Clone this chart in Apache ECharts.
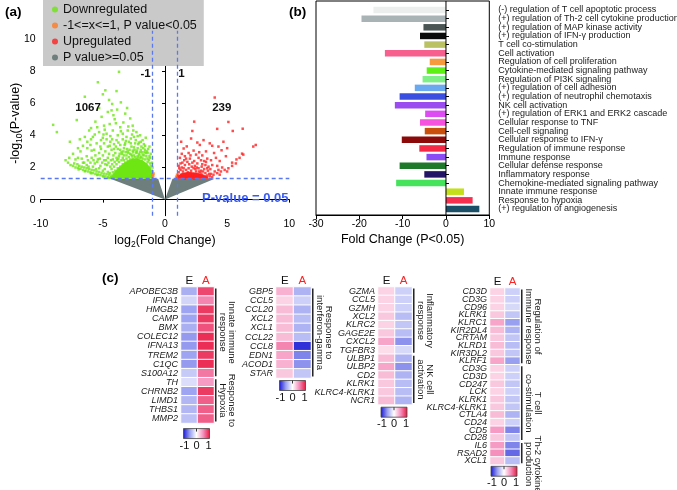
<!DOCTYPE html>
<html>
<head>
<meta charset="utf-8">
<script src="https://cdn.jsdelivr.net/npm/echarts@6.0.0/dist/echarts.min.js"></script>
<style>
html,body{margin:0;padding:0;background:#ffffff;}
#chart{width:677px;height:490px;}
</style>
</head>
<body>
<div id="chart"></div>
<script>
// ================= Panel (a): volcano plot =================
const volcanoXTicks = [-10, -5, 0, 5, 10];
const volcanoYTicks = [0, 2, 4, 6, 8, 10];
const foldThresholds = [-1, 1];
const pThreshold = 1.3;

const downPoints = [
 [-3.70,7.95],[-5.40,7.30],[-4.80,6.80],[-3.90,6.75],[-5.00,6.55],[-6.45,6.40],[-4.50,6.20],[-3.55,6.05],[-4.25,5.95],[-5.30,5.70],
 [-3.85,5.60],[-4.30,5.55],[-4.60,5.45],[-3.20,5.35],[-5.10,5.15],[-2.80,5.05],[-4.05,5.00],[-7.10,4.95],[-5.60,4.85],[-3.35,4.80],
 [-4.45,4.70],[-9.00,4.65],[-2.60,4.60],[-4.90,4.60],[-3.60,4.50],[-5.95,4.45],[-2.95,4.55],[-3.95,4.75],[-4.15,5.25],[-3.05,5.70],
 [-6.10,4.30],[-2.30,4.20],[-8.70,4.20],[-5.30,4.20],[-4.20,4.30],[-3.00,4.30],[-4.70,4.10],[-3.40,4.10],[-2.00,4.00],[-3.80,4.00],
 [-6.45,3.90],[-5.80,3.90],[-2.50,3.90],[-3.10,3.90],[-5.00,3.85],[-4.40,3.95],[-6.85,3.75],[-1.80,3.70],[-3.90,3.70],[-4.70,3.75],
 [-3.40,3.75],[-7.65,3.60],[-2.10,3.55],[-5.50,3.50],[-4.90,3.50],[-4.40,3.60],[-2.90,3.60],[-2.40,3.50],[-1.70,3.45],[-6.00,3.40],
 [-4.10,3.45],[-3.60,3.40],[-3.20,3.50],[-5.20,3.30],[-2.65,4.05],[-1.55,3.85],[-5.65,4.05],
 [-4.60,3.30],[-2.70,3.30],[-1.90,3.30],[-3.30,3.20],[-4.30,3.10],[-5.70,3.10],[-2.20,3.20],[-3.80,3.15],[-1.60,3.10],[-4.10,3.15],
 [-5.90,3.05],[-3.00,3.00],[-4.80,3.00],[-2.50,3.25],[-3.60,3.10],[-6.80,3.00],[-2.60,3.05],[-4.00,2.90],[-5.30,2.90],[-3.50,2.95],
 [-1.40,2.90],[-2.30,2.90],[-2.00,2.95],[-4.50,2.85],[-2.80,2.85],[-1.80,2.80],[-5.00,2.75],[-3.10,2.75],[-5.60,2.75],[-2.50,2.75],
 [-1.50,2.70],[-6.30,2.70],[-3.70,2.70],[-2.20,2.70],[-4.20,2.50],[-2.90,2.65],[-1.90,2.65],[-3.40,2.60],[-4.60,2.60],[-5.90,2.60],
 [-1.20,2.60],[-3.90,2.60],[-5.40,2.50],[-4.90,2.45],[-1.30,2.45],[-7.20,2.50],[-3.25,3.40],[-2.15,3.45],[-4.45,3.35],[-1.35,3.15],
 [-1.15,2.85],[-5.15,3.15],[-3.95,3.30],[-2.35,3.70],[-6.25,3.20],
 [-8.00,2.45],[-7.80,2.30],[-7.60,2.15],[-7.40,2.10],[-7.30,2.25],[-7.20,2.00],[-7.00,1.98],[-6.95,1.88],[-6.90,2.10],[-6.80,1.92],
 [-6.70,2.05],[-6.60,1.85],[-6.50,2.00],[-6.45,1.76],[-6.40,1.80],[-6.30,1.95],[-6.20,1.75],[-6.10,1.90],[-6.00,1.70],[-5.95,1.64],
 [-5.90,1.85],[-5.80,1.65],[-5.70,1.82],[-5.60,1.60],[-5.50,1.75],[-5.45,1.53],[-5.40,1.56],[-5.30,1.72],[-5.20,1.52],[-5.10,1.66],
 [-5.00,1.48],[-4.95,1.43],[-4.90,1.62],[-4.80,1.44],[-4.70,1.58],[-4.60,1.40],[-4.55,1.35],[-4.50,1.55],[-4.40,1.36],[-4.30,1.50],
 [-5.30,1.95],[-5.80,2.05],[-6.30,2.15],[-6.60,2.30],[-5.00,1.80],[-4.60,1.72],[-7.05,2.20],[-6.15,2.05],[-5.55,1.90],[-4.85,1.90],
 [-6.00,2.30],[-5.65,2.25],[-5.20,2.10],[-4.80,2.20],[-4.40,2.05],[-6.50,2.30],
 [-4.20,1.70],[-4.00,1.80],[-3.80,1.95],[-3.60,2.05],[-3.40,2.20],[-3.20,2.30],[-3.00,2.40],[-2.80,2.50],[-2.60,2.55],[-2.40,2.65],
 [-2.20,2.60],[-2.00,2.60],[-1.80,2.55],[-1.60,2.50],[-1.40,2.35],[-1.20,2.25],[-1.10,1.80],[-1.05,1.60],[-1.10,2.10],[-1.20,1.95],
 [-3.90,2.20],[-3.50,2.45],[-2.70,2.80],[-2.10,2.85],[-1.70,2.75],[-4.30,1.90],[-3.10,2.55],[-1.50,2.20],[-4.10,2.05],[-3.30,2.45],
 [-2.50,2.45],[-1.30,2.05],[-4.45,1.65],[-3.70,2.35],[-2.90,2.30],[-1.90,2.40],[-1.15,1.55],[-1.25,1.40],[-4.00,1.45],[-3.00,1.50],
 [-2.00,1.45],[-1.50,1.70],[-3.50,1.60],[-2.50,1.70],[-4.35,1.40],[-3.75,2.55],[-2.30,2.95],[-1.40,2.55],
 [-3.45,2.85],[-3.15,2.95],[-2.85,3.10],[-2.55,2.95],[-2.25,3.05],[-1.95,3.10],[-1.65,2.95],[-1.45,3.00],[-1.25,2.70],[-3.85,2.45],
 [-4.05,2.35],[-4.25,2.20],[-4.55,2.30],[-4.75,2.45],[-4.15,2.75],[-3.65,2.85],[-2.65,2.70],[-2.05,2.75],[-1.55,2.90],[-1.05,2.30],
 [-1.00,2.00],[-0.98,1.75],[-3.35,3.00],[-2.45,3.10],[-1.75,3.20],[-4.35,2.45],[-5.05,2.30],[-5.45,2.35],[-3.05,3.15],[-2.75,3.50],
 [-1.95,3.60],[-3.75,3.55],[-4.25,3.75],[-5.15,3.70],[-1.25,3.30],[-2.55,4.30],[-3.55,4.25],[-4.85,4.35],[-5.45,4.50],[-6.25,3.60],
 [-6.60,3.35],[-7.00,3.20],[-7.40,2.85],[-7.00,2.60],[-6.70,2.55],[-7.70,2.60],[-3.30,2.75],[-2.95,2.90],[-2.35,2.50],[-1.85,2.95],
 [-4.65,2.15],[-5.25,2.55],[-5.75,2.45],[-6.20,2.45],[-3.15,3.65],[-2.20,3.95],[-4.95,4.05],[-5.95,3.75],[-1.60,3.35],[-2.75,3.80]
];
const midPoints = [[-1.00,1.35],[-0.95,1.48],[-0.92,1.62],[-1.00,1.55],[0.95,1.35],[0.90,1.42],[0.97,1.55]];
const upPoints = [
 [4.00,6.35],[2.35,4.85],[5.10,4.83],[4.20,4.40],[5.45,4.27],[6.25,4.41],[2.20,4.27],[2.10,3.80],[7.30,3.40],[7.10,3.30],
 [4.70,3.60],[3.80,3.35],[4.55,3.07],[6.20,2.86],[1.75,3.31],[1.50,3.18],[2.30,3.05],[3.60,3.50],[3.30,3.00],[4.30,3.30],
 [2.80,3.40],[1.30,3.60],[3.10,3.70],[5.00,3.20],[2.60,3.55],[4.90,2.70],[3.95,2.90],[1.90,2.90],[2.50,2.80],
 [1.20,2.60],[1.60,2.70],[2.00,2.55],[2.70,2.60],[3.00,2.75],[3.40,2.55],[3.70,2.45],[4.10,2.60],[4.40,2.40],[1.40,2.30],
 [1.80,2.35],[2.20,2.30],[2.60,2.25],[3.00,2.20],[3.30,2.35],[3.80,2.15],[1.10,2.10],[2.40,2.10],[3.50,2.05],[4.20,2.10],
 [1.60,2.15],[2.90,2.45],[2.05,2.75],[3.15,2.40],[1.35,2.85],[2.75,2.95],
 [3.60,1.45],[3.90,1.55],[4.20,1.65],[4.50,1.75],[4.80,1.85],[5.10,1.95],[5.40,2.10],[5.70,2.25],[5.75,2.50],[6.00,2.60],
 [5.40,2.30],[4.60,2.00],[4.30,1.85],[4.00,1.75],[3.70,1.60],[3.40,1.50],[3.80,1.40],[4.40,1.55],[5.00,1.75],[6.30,2.80],
 [1.00,1.35],[1.05,1.50],[1.10,1.70],[1.20,1.40],[1.25,1.85],[1.30,1.55],[1.40,1.35],[1.45,1.75],[1.50,1.95],[1.55,1.45],
 [1.65,1.60],[1.70,1.85],[1.80,1.40],[1.85,1.70],[1.90,1.95],[2.00,1.50],[2.10,1.80],[2.15,1.35],[2.25,1.60],[2.30,1.95],
 [2.40,1.45],[2.50,1.75],[2.55,1.35],[2.65,1.60],[2.70,1.95],[2.80,1.40],[2.90,1.80],[3.00,1.55],[3.10,1.35],[3.15,1.90],
 [3.25,1.65],[3.35,1.40],[3.45,1.80],[3.55,1.60],[1.15,1.95],[1.35,2.00],[1.60,1.30],[2.05,1.65],[2.35,1.30],[2.60,1.50],
 [2.85,1.65],[3.05,1.75],[1.75,1.50],[1.95,1.35],[2.45,1.90],[3.20,1.45],[1.45,1.60],[2.20,1.50],[2.75,1.75],[3.40,1.95],
 [1.25,2.25],[1.55,2.45],[1.95,2.20],[2.35,2.40],[2.55,2.00],[2.95,2.05],[3.25,2.15],[3.65,1.90],[1.70,2.55],[2.15,2.05]
];
// outlines of the densely packed regions (grey non-significant fans, saturated cores)
const greyLeftOutline = [[0,0],[-4.4,1.3],[-0.55,1.3]];
const greyRightOutline = [[0,0],[0.6,1.3],[4.0,1.3]];
const downCoreOutline = [[-4.4,1.3],[-4.2,1.6],[-3.8,1.95],[-3.4,2.22],[-3.0,2.42],[-2.6,2.55],[-2.2,2.55],[-1.8,2.45],[-1.45,2.25],[-1.15,1.92],[-1.02,1.6],[-1.02,1.3]];
const upCoreOutline = [[1.02,1.3],[1.02,1.45],[1.3,1.62],[1.8,1.72],[2.4,1.68],[3.0,1.56],[3.4,1.42],[3.55,1.3]];

const noteTexts = ['-1', '1', '1067', '239', 'P-value = 0.05'];
const notePositions = [[-1.15,7.8],[1.07,7.8],[-6.19,5.71],[4.57,5.71],[6.46,0.06]];

// ================= Panel (b): GO fold change bars =================
const goTerms = [
 '(-) regulation of T cell apoptotic process',
 '(+) regulation of Th-2 cell cytokine production',
 '(+) regulation of MAP kinase activity',
 '(+) regulation of IFN-\u03b3 production',
 'T cell co-stimulation',
 'Cell activation',
 'Regulation of cell proliferation',
 'Cytokine-mediated signaling pathway',
 'Regulation of PI3K signaling',
 '(+) regulation of cell adhesion',
 '(+) regulation of neutrophil chemotaxis',
 'NK cell activation',
 '(+) regulation of ERK1 and ERK2 cascade',
 'Cellular response to TNF',
 'Cell-cell signaling',
 'Cellular response to IFN-\u03b3',
 'Regulation of immune response',
 'Immune response',
 'Cellular defense response',
 'Inflammatory response',
 'Chemokine-mediated signaling pathway',
 'Innate immune response',
 'Response to hypoxia',
 '(+) regulation of angiogenesis'
];
const goFold = [-16.75,-19.5,-5.2,-6.0,-5.0,-14.1,-3.75,-4.45,-5.4,-7.2,-10.7,-11.8,-4.8,-6.0,-4.9,-10.2,-6.15,-4.5,-10.7,-5.0,-11.5,4.15,6.15,7.7];
const goColors = ['#eceeee','#a9b3b6','#4b5654','#0a0a0a','#b9c164','#f7608e','#f79a3e','#5ef015','#80ef88','#6aa8f0','#3a4fe0','#9a4cf0',
 '#dc4cf2','#f652e0','#c8500c','#8c0a0a','#f52845','#8b4cf5','#1e7a2a','#231566','#45e35b','#c4e01a','#f5304e','#1b4f68'];

// ================= Panel (c): heatmaps =================
const heatCols = ['E', 'A'];
const genes1 = ['APOBEC3B','IFNA1','HMGB2','CAMP','BMX','COLEC12','IFNA13','TREM2','C1QC','S100A12','TH','CHRNB2','LIMD1','THBS1','MMP2'];
const valsE1 = [-0.42,-0.22,-0.48,-0.48,-0.42,-0.52,-0.52,-0.48,-0.52,-0.28,-0.18,-0.48,-0.38,-0.38,-0.33];
const valsA1 = [0.8,0.55,0.85,0.85,0.75,0.9,0.9,0.85,0.9,0.6,0.45,0.85,0.7,0.7,0.7];
const groups1 = [[0,9,'Innate immune\nresponse'],[10,14,'Response to\nHypoxia']];

const genes2 = ['GBP5','CCL5','CCL20','XCL2','XCL1','CCL22','CCL8','EDN1','ACOD1','STAR'];
const valsE2 = [0.35,0.2,0.3,0.3,0.3,0.3,0.55,0.4,0.35,0.25];
const valsA2 = [-0.4,-0.25,-0.4,-0.35,-0.4,-0.35,-0.9,-0.6,-0.55,-0.3];
const groups2 = [[0,9,'Response to\ninterferon-gamma']];

const genes3 = ['GZMA','CCL5','GZMH','XCL2','KLRC2','GAGE2E','CXCL2','TGFBR3','ULBP1','ULBP2','CD2','KLRK1','KLRC4-KLRK1','NCR1'];
const valsE3 = [0.2,0.2,0.2,0.25,0.2,0.25,0.4,0.15,0.3,0.4,0.3,0.25,0.25,0.3];
const valsA3 = [-0.25,-0.25,-0.25,-0.35,-0.3,-0.35,-0.55,-0.2,-0.4,-0.55,-0.4,-0.35,-0.35,-0.4];
const groups3 = [[0,7,'Inflammatory\nresponse'],[8,13,'NK cell\nactivation']];

const genes4 = ['CD3D','CD3G','CD96','KLRK1','KLRC1','KIR2DL4','CRTAM','KLRD1','KIR3DL2','KLRF1','CD3G','CD3D','CD247','LCK','KLRK1',
 'KLRC4-KLRK1','CTLA4','CD24','CD5','CD28','IL6','RSAD2','XCL1'];
const valsE4 = [0.2,0.2,0.2,0.25,0.4,0.3,0.25,0.3,0.25,0.4,0.2,0.2,0.25,0.2,0.25,0.25,0.3,0.2,0.45,0.25,0.45,0.5,0.25];
const valsA4 = [-0.25,-0.25,-0.2,-0.3,-0.5,-0.4,-0.3,-0.35,-0.3,-0.5,-0.25,-0.25,-0.3,-0.25,-0.3,-0.3,-0.4,-0.25,-0.6,-0.3,-0.6,-0.7,-0.35];
const groups4 = [[0,9,'Regulation of\nImmune response'],[10,19,'T cell\nco-stimulation'],[20,22,'Th-2 cytokine\nproduction']];
const scaleTicks = ['-1','0','1'];

// ================= build =================
const FONT = '"Liberation Sans", Arial, Helvetica, sans-serif';
const scaleColors = ['#1414d2','#9aa0f0','#ffffff','#f590bd','#e8163c'];
const GREEN = '#6ee614', RED = '#ff2020', ORANGE = '#ff7a22', GREY = '#6e7e7c', BLUE = '#5a78f0';

const heatSets = [
  {genes: genes1, e: valsE1, a: valsA1, groups: groups1},
  {genes: genes2, e: valsE2, a: valsA2, groups: groups2},
  {genes: genes3, e: valsE3, a: valsA3, groups: groups3},
  {genes: genes4, e: valsE4, a: valsA4, groups: groups4}
];
const heatLayout = [
  {left:181, top:287, width:33, rowH:9.07, cbGap:5.5},
  {left:276, top:287, width:35, rowH:9.1, cbGap:2.5},
  {left:378, top:287, width:34, rowH:8.4, cbGap:2.6},
  {left:490, top:288, width:30, rowH:7.68, cbGap:1.6}
];
const BAR_ROW = 8.652;

const measureCtx = document.createElement('canvas').getContext('2d');
function textLen(str, size) {
  measureCtx.font = size + 'px ' + FONT;
  return Math.max.apply(null, str.split('\n').map(s => measureCtx.measureText(s).width));
}

const chart = echarts.init(document.getElementById('chart'), null, {renderer: 'canvas'});

const grids = [
  {left:40.7, top:30.8, width:248.6, height:184.9, outerBoundsMode:'none'},
  {left:316, top:1, width:173.3, height:214, show:true, borderColor:'#000', borderWidth:1, backgroundColor:'transparent', outerBoundsMode:'none'},
  {left:316, top:10 - BAR_ROW/2, width:173.3, height:BAR_ROW * goTerms.length, outerBoundsMode:'none'}
];
heatLayout.forEach((L, k) => {
  grids.push({left:L.left, top:L.top, width:L.width, height:L.rowH * heatSets[k].genes.length, outerBoundsMode:'none'});
});
const HG = 3;

const axisBlack = {show:true, lineStyle:{color:'#000', width:1}};
const xAxes = [
  {type:'value', gridIndex:0, min:-10, max:10, interval:5, axisLine:axisBlack,
   axisTick:{show:true, inside:false, length:3, lineStyle:{color:'#000'}},
   axisLabel:{fontSize:10.5, color:'#000', margin:3, fontFamily:FONT}, splitLine:{show:false},
   name:'{t|log}{s|2}{t|(Fold Change)}', nameLocation:'middle', nameGap:17, nameMoveOverlap:false,
   nameTextStyle:{rich:{t:{fontSize:12.5, fontFamily:FONT, color:'#000', lineHeight:16}, s:{fontSize:8.5, fontFamily:FONT, color:'#000', lineHeight:16, verticalAlign:'bottom'}}}},
  {type:'value', gridIndex:1, min:-30, max:10, interval:10, axisLine:axisBlack,
   axisTick:{show:true, inside:false, length:4, lineStyle:{color:'#000'}},
   axisLabel:{fontSize:10.5, color:'#000', margin:4, fontFamily:FONT}, splitLine:{show:false},
   name:'Fold Change (P<0.05)', nameLocation:'middle', nameGap:18, nameMoveOverlap:false,
   nameTextStyle:{fontSize:12.5, fontFamily:FONT, color:'#000'}},
  {type:'value', gridIndex:2, min:-30, max:10, show:false}
];
const yAxes = [
  {type:'value', gridIndex:0, min:-1, max:10.5, axisLine:axisBlack,
   axisTick:{show:true, inside:false, length:3, lineStyle:{color:'#000'}, customValues:volcanoYTicks},
   axisLabel:{fontSize:10.5, color:'#000', margin:5, fontFamily:FONT, customValues:volcanoYTicks}, splitLine:{show:false},
   name:'{t|-log}{s|10}{t|(P-value)}', nameLocation:'middle', nameGap:17, nameMoveOverlap:false,
   nameTextStyle:{rich:{t:{fontSize:12.5, fontFamily:FONT, color:'#000', lineHeight:16}, s:{fontSize:8.5, fontFamily:FONT, color:'#000', lineHeight:16, verticalAlign:'bottom'}}}},
  {type:'value', gridIndex:1, min:0, max:1, show:false},
  {type:'category', gridIndex:2, data:goTerms, inverse:true, position:'right',
   axisLine:{show:false}, axisTick:{show:true, alignWithLabel:true, inside:false, length:3, lineStyle:{color:'#000'}},
   axisLabel:{interval:0, hideOverlap:false, showMinLabel:true, showMaxLabel:true, fontSize:9, color:'#1a1a1a', margin:9, fontFamily:FONT},
   splitLine:{show:false}}
];
heatSets.forEach((H, k) => {
  xAxes.push({type:'category', gridIndex:k+HG, data:heatCols, position:'top',
    axisLine:{show:false}, axisTick:{show:false}, splitLine:{show:false},
    axisLabel:{fontSize:11.5, fontFamily:FONT, margin:0.5, color: v => v === 'A' ? '#ff2020' : '#111'}});
  yAxes.push({type:'category', gridIndex:k+HG, data:H.genes, inverse:true,
    axisLine:{show:false}, axisTick:{show:false}, splitLine:{show:false},
    axisLabel:{interval:0, hideOverlap:false, showMinLabel:true, showMaxLabel:true, fontSize:9, fontStyle:'italic', fontFamily:FONT, color:'#1a1a1a', margin:3}});
});

function polyRender(outlines, colors) {
  return function(params, api) {
    const idx = api.value(2);
    const pts = outlines[idx].map(p => api.coord(p));
    return {type:'polygon', shape:{points:pts}, style:{fill:colors[idx]}};
  };
}

const series = [];
series.push({type:'custom', name:'P value>=0.05', xAxisIndex:0, yAxisIndex:0, itemStyle:{color:GREY},
  data:[greyLeftOutline, greyRightOutline].map((o,i)=>[o[1][0], o[1][1], i]),
  renderItem: polyRender([greyLeftOutline, greyRightOutline], [GREY, GREY]), silent:true, z:1});
series.push({type:'custom', name:'cores', xAxisIndex:0, yAxisIndex:0,
  data:[downCoreOutline, upCoreOutline].map((o,i)=>[o[1][0], o[1][1], i]),
  renderItem: polyRender([downCoreOutline, upCoreOutline], [GREEN, RED]), silent:true, z:2});
series.push({type:'scatter', name:'Downregulated', xAxisIndex:0, yAxisIndex:0, data:downPoints,
  symbol:'rect', symbolSize:2.5, itemStyle:{color:GREEN}, silent:true, z:3});
series.push({type:'scatter', name:'-1<=x<=1, P value<0.05', xAxisIndex:0, yAxisIndex:0, data:midPoints,
  symbol:'rect', symbolSize:2.6, itemStyle:{color:ORANGE}, silent:true, z:3});
series.push({type:'scatter', name:'Upregulated', xAxisIndex:0, yAxisIndex:0, data:upPoints,
  symbol:'rect', symbolSize:2.5, itemStyle:{color:RED}, silent:true, z:3,
  markLine:{silent:true, symbol:['none','none'], label:{show:false},
    lineStyle:{type:[4,3], color:BLUE, width:1.3},
    data:[{xAxis:foldThresholds[0]},{xAxis:foldThresholds[1]},{yAxis:pThreshold}]}});
series.push({type:'custom', name:'notes', xAxisIndex:0, yAxisIndex:0, silent:true, z:5,
  data: notePositions.map((p,i)=>[p[0], p[1], i]),
  renderItem: (params, api) => {
    const i = api.value(2);
    const c = api.coord([api.value(0), api.value(1)]);
    const last = i === noteTexts.length - 1;
    const align = i === 0 ? 'right' : (i === 1 ? 'left' : 'center');
    return {type:'text', x:c[0], y:c[1], style:{text:noteTexts[i], align:align, verticalAlign:'middle',
      font:'bold ' + (last ? 13 : 11.5) + 'px ' + FONT, fill: last ? '#3a5cf0' : '#111'}};
  }});
series.push({type:'bar', name:'bars', xAxisIndex:2, yAxisIndex:2, silent:true, barWidth:6.5,
  data: goFold.map((v,i)=>({value:v, itemStyle:{color:goColors[i]}}))});
series.push({type:'line', name:'zero', xAxisIndex:1, yAxisIndex:1, data:[[0,0],[0,1]], symbol:'none',
  lineStyle:{color:'#000', width:1}, silent:true, z:4});
const heatSeriesIdx = [];
heatSets.forEach((H, k) => {
  const data = [];
  H.genes.forEach((g, i) => { data.push([0, i, H.e[i]]); data.push([1, i, H.a[i]]); });
  heatSeriesIdx.push(series.length);
  series.push({type:'heatmap', xAxisIndex:k+HG, yAxisIndex:k+HG, data:data, silent:true,
    itemStyle:{borderColor:'#ffffff', borderWidth:1}, emphasis:{disabled:true}});
});
heatSets.forEach((H, k) => {
  series.push({type:'custom', xAxisIndex:k+HG, yAxisIndex:k+HG, silent:true, z:5,
    data: H.groups.map((g, gi) => [1, g[0], g[1], gi]),
    renderItem: (params, api) => {
      const g = H.groups[api.value(3)];
      const c0 = api.coord([1, g[0]]), c1 = api.coord([1, g[1]]);
      const sz = api.size([1, 1]);
      const x = c0[0] + sz[0]/2 + 1.8;
      const top = c0[1] - sz[1]/2, bot = c1[1] + sz[1]/2;
      const len = textLen(g[2], 9.5);
      const cy = Math.max((top + bot)/2, top + len/2 - 6);
      return {type:'group', children:[
        {type:'line', shape:{x1:x, y1:top+1.5, x2:x, y2:bot-1.5}, style:{stroke:'#000', lineWidth:1.3}},
        {type:'text', x:x+11, y:cy, rotation:-Math.PI/2,
         style:{text:g[2], align:'center', verticalAlign:'middle', lineHeight:9, font:'9.5px ' + FONT, fill:'#1a1a1a'}}
      ]};
    }});
});

const graphics = [
  {type:'text', left:5, top:5, style:{text:'(a)', font:'bold 13.5px ' + FONT, fill:'#000'}},
  {type:'text', left:289, top:5, style:{text:'(b)', font:'bold 13.5px ' + FONT, fill:'#000'}},
  {type:'text', left:102, top:271, style:{text:'(c)', font:'bold 13.5px ' + FONT, fill:'#000'}}
];
heatLayout.forEach((L, k) => {
  const h = L.rowH * heatSets[k].genes.length;
  const cx = L.left + L.width/2 - 1;
  const top = L.top + h + L.cbGap;
  const x0 = cx - 13;
  graphics.push({type:'rect', shape:{x:x0, y:top, width:26, height:10},
    style:{fill:new echarts.graphic.LinearGradient(0,0,1,0, scaleColors.map((c,i)=>({offset:i/(scaleColors.length-1), color:c}))),
      stroke:'#444', lineWidth:0.8}});
  graphics.push({type:'line', shape:{x1:cx, y1:top, x2:cx, y2:top+3}, style:{stroke:'#333', lineWidth:1}});
  [x0 + 1, cx, x0 + 25].forEach((tx, i) => {
    graphics.push({type:'text', x:tx, y:top + 17, style:{text:scaleTicks[i], align:'center', verticalAlign:'middle',
      font:'11px ' + FONT, fill:'#111'}});
  });
});

chart.setOption({
  animation:false,
  backgroundColor:'#ffffff',
  textStyle:{fontFamily:FONT},
  grid:grids,
  xAxis:xAxes,
  yAxis:yAxes,
  legend:{orient:'vertical', left:43, top:0, backgroundColor:'#c9c9c9', borderWidth:0,
    padding:[3,7,2,9], itemWidth:6, itemHeight:6, icon:'circle', itemGap:3, selectedMode:false,
    textStyle:{fontSize:12.5, fontFamily:FONT, color:'#111', lineHeight:13},
    data:['Downregulated','-1<=x<=1, P value<0.05','Upregulated','P value>=0.05']},
  visualMap:{type:'continuous', show:false, min:-1, max:1, seriesIndex:heatSeriesIdx, inRange:{color:scaleColors}},
  graphic:graphics,
  series:series
});
</script>
</body>
</html>
